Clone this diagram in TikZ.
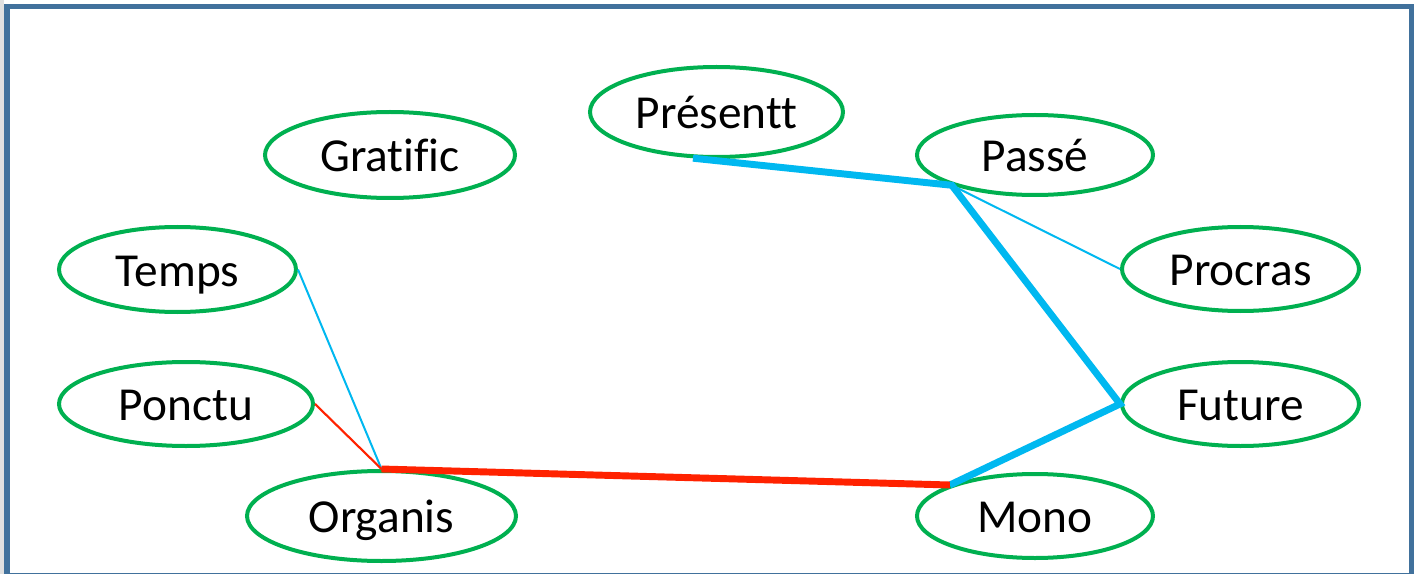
\documentclass[tikz,border=0pt]{standalone}
\usepackage{fontspec}
\setmainfont{Carlito}[Ligatures=NoCommon]
\usetikzlibrary{shapes.geometric}
\definecolor{framecol}{HTML}{41719C}
\definecolor{ringgreen}{HTML}{00B050}
\definecolor{linkblue}{HTML}{00B8F0}
\definecolor{linkred}{HTML}{FF2200}
\begin{document}
\begin{tikzpicture}[x=0.75pt,y=-0.75pt,
  bubble/.style 2 args={ellipse, draw=ringgreen, line width=3pt, fill=none,
    inner sep=0pt, minimum width=#1*0.75pt, minimum height=#2*0.75pt,
    text height=25pt, text depth=0pt,
    font=\fontsize{35.5}{40}\selectfont},
  thickblue/.style={draw=linkblue, line width=5.2pt},
  thinblue/.style={draw=linkblue, line width=1.5pt},
  thickred/.style={draw=linkred, line width=5.2pt},
  thinred/.style={draw=linkred, line width=1.6pt}]
  \useasboundingbox (0,0) rectangle (1421,574);
  \fill[white] (0,0) rectangle (1421,574);
  \fill[black!12] (0,0) rectangle (4,574);
  % outer frame
  \draw[framecol, line width=4.2pt] (7,6.5) rectangle (1411.5,575.5);

  % terms
  \node[bubble={250}{86}] (gratific) at (390,155) {Gratific};
  \node[bubble={253}{90}] (presentt) at (716.5,112) {Présentt};
  \node[bubble={236}{80}] (passe)    at (1035,155) {Passé};
  \node[bubble={237}{85}] (temps)    at (177.5,269.5) {Temps};
  \node[bubble={237}{84}] (procras)  at (1240.5,269) {Procras};
  \node[bubble={254}{84}] (ponctu)   at (186,404) {Ponctu};
  \node[bubble={237}{84}] (future)   at (1240.5,404) {Future};
  \node[bubble={269}{90}] (organis)  at (381.5,516) {Organis};
  \node[bubble={236}{84}] (mono)     at (1035,516) {Mono};

  % links
  \draw[thinblue]  (passe.200) -- (procras.west);
  \draw[thickblue] (presentt.243) -- (passe.200) -- (future.west) -- (mono.160);
  \draw[thinblue]  (temps.east) -- (organis.north);
  \draw[thinred]   (ponctu.east) -- (organis.north);
  \draw[thickred]  (organis.north) -- (mono.160);
\end{tikzpicture}
\end{document}
